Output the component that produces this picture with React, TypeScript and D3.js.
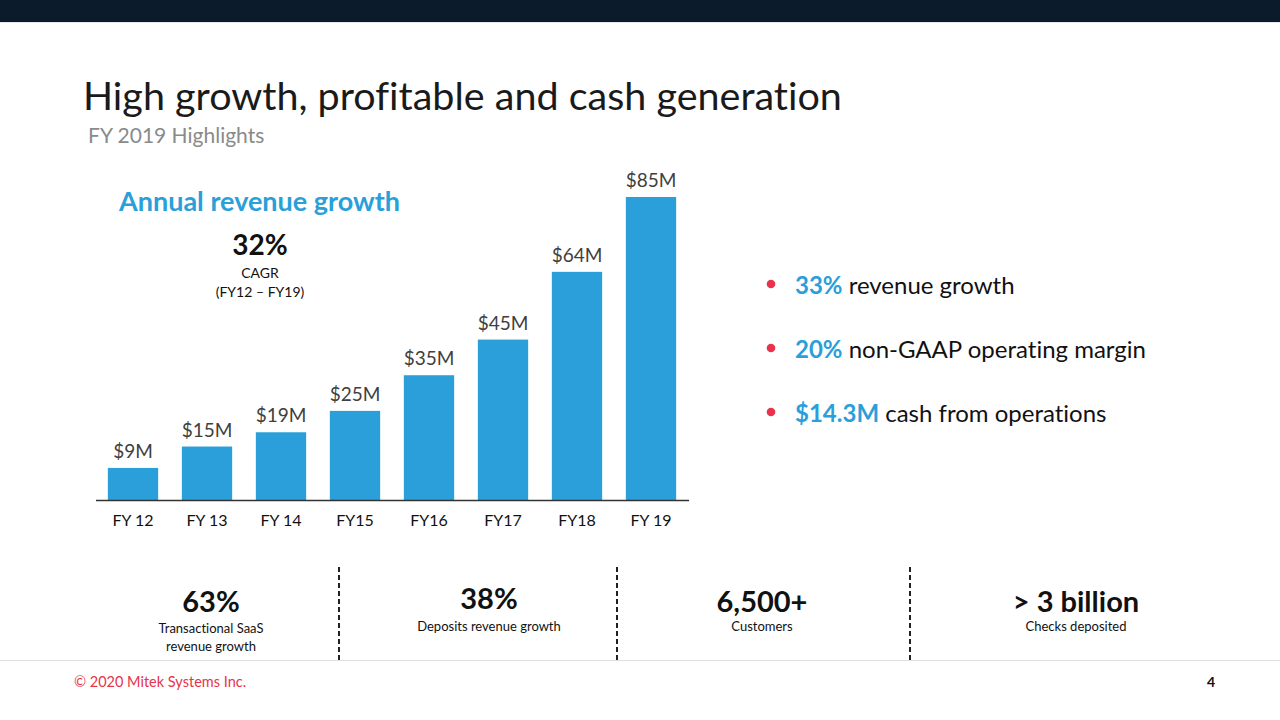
import React from "react";
import * as d3 from "d3";

const categories = ["FY 12", "FY 13", "FY 14", "FY15", "FY16", "FY17", "FY18", "FY 19"];
const revenue = [9, 15, 19, 25, 35, 45, 64, 85];
const valueLabels = ["$9M", "$15M", "$19M", "$25M", "$35M", "$45M", "$64M", "$85M"];

const bulletStrong = ["33%", "20%", "$14.3M"];
const bulletRest = [" revenue growth", " non-GAAP operating margin", " cash from operations"];

const kpiValues = ["63%", "38%", "6,500+", "> 3 billion"];
const kpiLabels = [["Transactional SaaS", "revenue growth"], ["Deposits revenue growth"], ["Customers"], ["Checks deposited"]];

const FONT = "Lato, 'Open Sans', sans-serif";
const BLUE = "#2a9fd9";

export default function App() {
  const W = 1280, H = 720;
  const x = d3.scaleBand<string>().domain(categories).range([96, 688]).paddingInner(0.32).paddingOuter(0.16);
  const y = d3.scaleLinear().domain([0, 85]).range([500, 197]);

  const kpiX = [211, 489, 762, 1076];
  const kpiValY = [612, 609, 612, 612];
  const dividers = [339, 617, 910];

  return (
    <svg width={W} height={H} style={{ position: "absolute", left: 0, top: 0, background: "#fff", fontVariantLigatures: "none" }} fontFamily={FONT}>
      <rect x={0} y={0} width={W} height={22} fill="#0c1b2b" />
      <line x1={0} x2={W} y1={22.5} y2={22.5} stroke="#dfe8ee" strokeWidth={1} />

      <text x={83} y={110} fontSize={39.5} fill="#1a1a1a">High growth, profitable and cash generation</text>
      <text x={88} y={143} fontSize={21} fill="#8a8a8a">FY 2019 Highlights</text>

      <text x={119} y={211} fontSize={27} fontWeight={700} fill={BLUE}>Annual revenue growth</text>
      <text x={260} y={255} fontSize={28} fontWeight={700} fill="#111" textAnchor="middle">32%</text>
      <text x={260} y={278} fontSize={14} fill="#111" textAnchor="middle">CAGR</text>
      <text x={260} y={297} fontSize={14} fill="#111" textAnchor="middle">(FY12 – FY19)</text>

      {categories.map((c, i) => (
        <g key={c}>
          <rect x={x(c)} y={y(revenue[i])} width={x.bandwidth()} height={y(0) - y(revenue[i])} fill={BLUE} />
          <text x={(x(c) as number) + x.bandwidth() / 2} y={y(revenue[i]) - 10} fontSize={19} fill="#404040" textAnchor="middle">{valueLabels[i]}</text>
          <text x={(x(c) as number) + x.bandwidth() / 2} y={526} fontSize={16} fill="#111" textAnchor="middle">{c}</text>
        </g>
      ))}
      <line x1={96} x2={689} y1={500.5} y2={500.5} stroke="#333" strokeWidth={1.3} />

      {bulletStrong.map((s, i) => (
        <g key={s}>
          <circle cx={771} cy={284 + i * 64} r={4.3} fill="#e8334a" />
          <text x={795} y={294 + i * 64} fontSize={24} fill="#111">
            <tspan fontWeight={700} fill={BLUE}>{s}</tspan>
            <tspan>{bulletRest[i]}</tspan>
          </text>
        </g>
      ))}

      {dividers.map((dx) => (
        <line key={dx} x1={dx} x2={dx} y1={567} y2={662} stroke="#222" strokeWidth={2} strokeDasharray="5,3" />
      ))}
      <line x1={0} x2={W} y1={660.5} y2={660.5} stroke="#e0e0e0" strokeWidth={1} />

      {kpiValues.map((v, i) => (
        <g key={v}>
          <text x={kpiX[i]} y={kpiValY[i]} fontSize={29} fontWeight={700} fill="#111" textAnchor="middle">{v}</text>
          {kpiLabels[i].map((l, j) => (
            <text key={l} x={kpiX[i]} y={(i === 0 ? 633 : 631) + j * 18} fontSize={13} fill="#111" textAnchor="middle">{l}</text>
          ))}
        </g>
      ))}

      <text x={74} y={687} fontSize={14.5} fill="#e8334a">© 2020 Mitek Systems Inc.</text>
      <text x={1215} y={687} fontSize={14} fontWeight={700} fill="#111" textAnchor="end">4</text>
    </svg>
  );
}
